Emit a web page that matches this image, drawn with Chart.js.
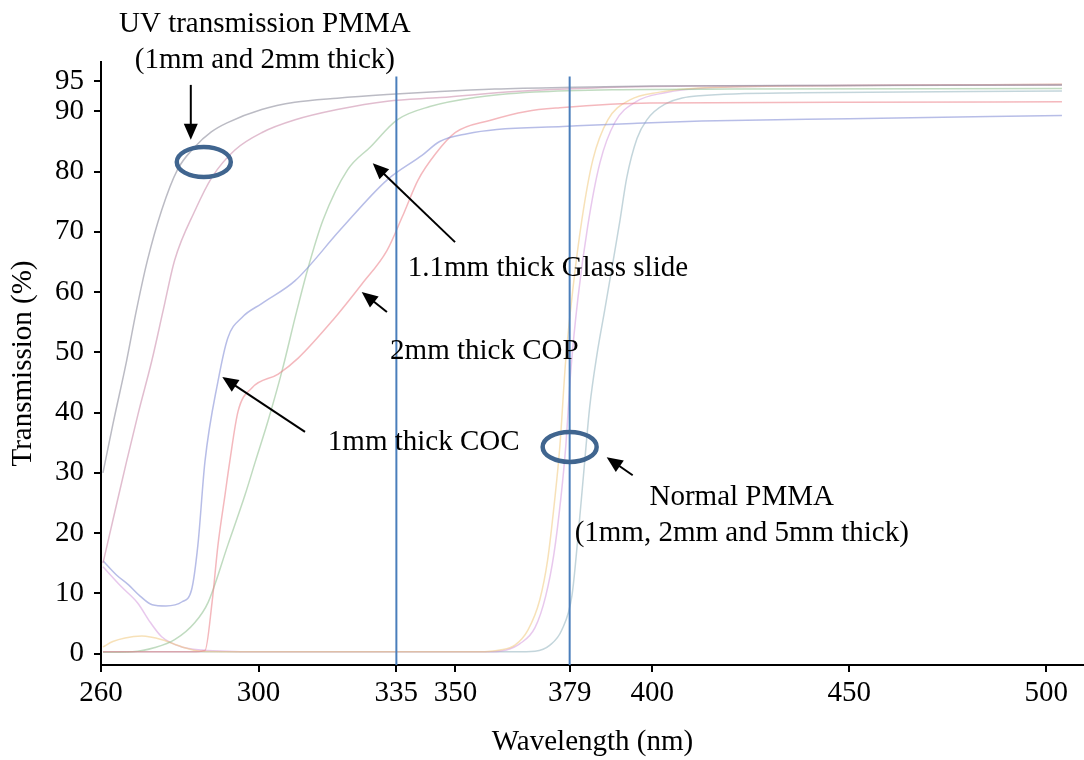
<!DOCTYPE html>
<html lang="en">
<head>
    <meta charset="UTF-8">
    <title>UV transmission of chip materials</title>
    <style>
        body { margin: 0; background: #fff; }
        canvas { display: block; }
    </style>
</head>
<body>
    <canvas id="myChart" width="1084" height="760"></canvas>

    <script src="https://cdn.jsdelivr.net/npm/chart.js@4.4.1/dist/chart.umd.min.js"></script>
    <script>

// axis ticks and the two marker wavelengths
var wavelengthTicks = [260, 300, 335, 350, 379, 400, 450, 500];
var transmissionTicks = [0, 10, 20, 30, 40, 50, 60, 70, 80, 90, 95];
var markerLines = [335, 379];

// UV transmission PMMA, 1mm
var uvPmma1Nm = [260.5, 263, 266.5, 269, 271.8, 275.4, 279.4, 283.8, 288, 292, 300.8, 309.2, 320, 332.6, 346, 360, 380, 400, 450, 504];
var uvPmma1T  = [30, 38, 48.6, 57, 65.3, 73.6, 80.3, 84.1, 86.6, 88.1, 90.3, 91.5, 92.2, 92.8, 93.3, 93.7, 94.0, 94.2, 94.3, 94.4];

// UV transmission PMMA, 2mm
var uvPmma2Nm = [260.5, 263.5, 266.5, 269.5, 272.9, 275.8, 278.7, 283.9, 288.2, 294, 300.9, 309.3, 320, 332.7, 346.2, 365, 385, 410, 504];
var uvPmma2T  = [15, 23.5, 31.9, 40, 48.6, 57, 65.3, 73.6, 79.1, 83.6, 86.5, 88.6, 90.3, 91.7, 92.3, 93.3, 93.9, 94.2, 94.4];

// 1mm COC
var cocNm = [260.5, 264, 267, 270, 273, 276.5, 280.6, 283, 284.6, 286.4, 289.7, 292.2, 295.8, 300.8, 309.3, 320.7, 332.6, 341.5, 346, 353, 360.5, 377.3, 395, 412.5, 450, 504];
var cocT  = [15.4, 13, 11.4, 9.5, 8.1, 7.9, 8.6, 10.6, 18, 31.9, 45.2, 52.4, 55.8, 58.1, 61.9, 70.3, 78.6, 82.7, 85, 86.3, 87, 87.5, 88, 88.4, 88.8, 89.3];

// 2mm COP
var copNm = [260.5, 283, 286.4, 288.2, 289.7, 291.5, 292.7, 294.8, 298.3, 305, 310, 318.8, 326.3, 332.6, 336.5, 340.5, 345, 350, 358.7, 368, 376.5, 399.4, 450, 504];
var copT  = [0.3, 0.3, 0.5, 8.5, 18, 26.4, 31.9, 40.2, 44.1, 46.4, 49, 55.3, 61.4, 66.9, 72.5, 78.6, 83, 86.5, 88.5, 90, 90.6, 91.4, 91.5, 91.6];

// 1.1mm glass slide
var glassNm = [260.5, 268, 273.7, 278.7, 283.9, 287.2, 292.2, 296.6, 299.2, 302.4, 306, 309.3, 312.4, 316.4, 322.6, 328.4, 335.2, 343.5, 355, 370, 390, 420, 504];
var glassT  = [0.2, 0.3, 1, 2.3, 5.2, 8.5, 18, 26.4, 31.9, 38.6, 47, 55.8, 63.6, 72, 80.3, 84.1, 88.6, 90.8, 92.3, 93.2, 93.6, 93.7, 93.8];

// normal PMMA 1mm / 2mm / 5mm
var normal1Nm = [260.5, 263, 266.1, 270.4, 275.5, 280.6, 285, 300, 340, 356, 361.3, 365.1, 368.4, 371.4, 373.4, 375.2, 376.5, 378.0, 379.8, 382.1, 384.9, 388.7, 394.3, 401.9, 412.1, 450, 504];
var normal1T  = [1.1, 2, 2.6, 2.9, 2.3, 1.1, 0.4, 0.3, 0.3, 0.3, 0.6, 1.4, 3.9, 8.9, 15.5, 25.5, 34.3, 48.7, 60.4, 72, 82, 88.6, 91.9, 93.2, 93.9, 94.3, 94.5];

var normal2Nm = [260.5, 265, 269.3, 272.5, 275.4, 280.5, 285.6, 300, 340, 358, 362.9, 366.3, 370.2, 372.9, 375.0, 376.8, 378.0, 379.3, 381.1, 383.6, 386.7, 390.5, 395.8, 403.2, 413.3, 450, 504];
var normal2T  = [14.4, 11.2, 8.4, 5.2, 2.8, 1.1, 0.6, 0.3, 0.3, 0.3, 0.6, 1.6, 4.3, 9.5, 16.5, 26, 34.3, 47, 59, 71, 81.5, 88.2, 91.6, 93.1, 93.9, 94.3, 94.5];

var normal5Nm = [260.5, 300, 340, 365, 370.2, 374.0, 377.0, 379.6, 381.2, 382.7, 384.1, 385.9, 387.9, 390.0, 391.8, 393.5, 396.1, 398.6, 403.2, 412.1, 437.5, 504];
var normal5T  = [0.3, 0.3, 0.3, 0.3, 0.4, 1.4, 3.9, 9.7, 20, 31, 41, 49.5, 57, 65, 72, 79, 85.5, 88.6, 91.2, 92.6, 93.1, 93.4];

// callouts, placed in wavelength / transmission units
var noteTexts = [
    { text: 'UV transmission PMMA', x: 301.6, y: 104.4, align: 'center' },
    { text: '(1mm and 2mm thick)', x: 301.6, y: 98.5, align: 'center' },
    { text: '1.1mm thick Glass slide', x: 337.9, y: 64.0, align: 'left' },
    { text: '2mm thick COP', x: 333.4, y: 50.1, align: 'left' },
    { text: '1mm thick COC', x: 317.6, y: 35.0, align: 'left' },
    { text: 'Normal PMMA', x: 422.7, y: 26.0, align: 'center' },
    { text: '(1mm, 2mm and 5mm thick)', x: 422.7, y: 20.0, align: 'center' }
];
var noteArrows = [
    { from: [282.8, 94.4], to: [282.8, 85.3] },
    { from: [349.9, 68.3], to: [329.0, 81.4] },
    { from: [332.6, 56.7], to: [326.2, 60.0] },
    { from: [311.8, 36.8], to: [290.8, 45.9] },
    { from: [395.0, 29.6], to: [388.4, 32.6] }
];
var noteRings = [[286.1, 81.6], [379, 34.3]];

var serif = '"Liberation Serif", "Times New Roman", serif';

function toPoints(xs, ys) {
    var pts = [];
    for (var i = 0; i < xs.length; i++) {
        pts.push({ x: xs[i], y: ys[i] });
    }
    return pts;
}

function curve(xs, ys, color) {
    return {
        data: toPoints(xs, ys),
        borderColor: color,
        borderWidth: 1.5,
        cubicInterpolationMode: 'monotone',
        pointRadius: 0
    };
}

var datasets = [];

// blue marker lines go first so they sit on top of the curves
markerLines.forEach(function (nm) {
    datasets.push({
        data: [{ x: nm, y: -1.9 }, { x: nm, y: 95.8 }],
        borderColor: '#4a7ebb',
        borderWidth: 2,
        tension: 0,
        pointRadius: 0
    });
});

datasets.push(curve(uvPmma1Nm, uvPmma1T, 'rgba(150,150,165,0.65)'));
datasets.push(curve(uvPmma2Nm, uvPmma2T, 'rgba(205,145,175,0.6)'));
datasets.push(curve(cocNm, cocT, 'rgba(135,145,215,0.6)'));
datasets.push(curve(copNm, copT, 'rgba(235,125,135,0.55)'));
datasets.push(curve(glassNm, glassT, 'rgba(150,195,150,0.6)'));
datasets.push(curve(normal1Nm, normal1T, 'rgba(240,200,125,0.55)'));
datasets.push(curve(normal2Nm, normal2T, 'rgba(210,145,220,0.5)'));
datasets.push(curve(normal5Nm, normal5T, 'rgba(155,185,195,0.6)'));

/* ------- callout text, arrows and rings ------- */
var notes = {
    id: 'notes',
    afterDatasetsDraw: function (chart) {
        var ctx = chart.ctx;
        var sx = chart.scales.x, sy = chart.scales.y;
        ctx.save();
        ctx.fillStyle = '#000';
        ctx.strokeStyle = '#000';
        ctx.font = '29px ' + serif;
        ctx.textBaseline = 'middle';
        noteTexts.forEach(function (n) {
            ctx.textAlign = n.align;
            ctx.fillText(n.text, sx.getPixelForValue(n.x), sy.getPixelForValue(n.y));
        });

        noteArrows.forEach(function (a) {
            var x0 = sx.getPixelForValue(a.from[0]), y0 = sy.getPixelForValue(a.from[1]);
            var x1 = sx.getPixelForValue(a.to[0]), y1 = sy.getPixelForValue(a.to[1]);
            var ang = Math.atan2(y1 - y0, x1 - x0);
            var c = Math.cos(ang), s = Math.sin(ang);
            var head = 16, half = 7;
            ctx.lineWidth = 2;
            ctx.beginPath();
            ctx.moveTo(x0, y0);
            ctx.lineTo(x1 - c * head * 0.8, y1 - s * head * 0.8);
            ctx.stroke();
            ctx.beginPath();
            ctx.moveTo(x1, y1);
            ctx.lineTo(x1 - head * c + half * s, y1 - head * s - half * c);
            ctx.lineTo(x1 - head * c - half * s, y1 - head * s + half * c);
            ctx.closePath();
            ctx.fill();
        });

        ctx.strokeStyle = '#40658f';
        ctx.lineWidth = 4.5;
        noteRings.forEach(function (r) {
            ctx.beginPath();
            ctx.ellipse(sx.getPixelForValue(r[0]), sy.getPixelForValue(r[1]), 27, 15, 0, 0, Math.PI * 2);
            ctx.stroke();
        });
        ctx.restore();
    }
};

var ctx = document.getElementById('myChart').getContext('2d');
var myChart = new Chart(ctx, {
    type: 'line',
    data: { datasets: datasets },
    options: {
        responsive: false,
        animation: false,
        devicePixelRatio: 1,
        layout: { padding: { top: 62, right: 0, bottom: 0, left: 0 } },
        plugins: {
            legend: { display: false },
            tooltip: { enabled: false }
        },
        scales: {
            x: {
                type: 'linear',
                min: 260,
                max: 509.6,
                afterBuildTicks: function (scale) {
                    scale.ticks = wavelengthTicks.map(function (v) { return { value: v }; });
                },
                afterFit: function (scale) { scale.height = 95; },
                border: { display: true, color: '#000', width: 2 },
                grid: { drawOnChartArea: false, drawTicks: true, tickLength: 7, color: '#000', lineWidth: 2 },
                ticks: { autoSkip: false, maxRotation: 0, padding: 4, color: '#000', font: { family: serif, size: 29 } },
                title: { display: true, text: 'Wavelength (nm)', color: '#000', font: { family: serif, size: 29 }, padding: { top: 0, bottom: 0 } }
            },
            y: {
                type: 'linear',
                min: -1.9,
                max: 98.2,
                afterBuildTicks: function (scale) {
                    scale.ticks = transmissionTicks.map(function (v) { return { value: v }; });
                },
                afterFit: function (scale) { scale.width = 101; },
                border: { display: true, color: '#000', width: 2 },
                grid: { drawOnChartArea: false, drawTicks: true, tickLength: 7, color: '#000', lineWidth: 2 },
                ticks: { autoSkip: false, padding: 10, color: '#000', font: { family: serif, size: 29 } },
                title: { display: true, text: 'Transmission (%)', color: '#000', font: { family: serif, size: 29 }, padding: { top: 6, bottom: 0 } }
            }
        }
    },
    plugins: [notes]
});

</script>
</body>
</html>
